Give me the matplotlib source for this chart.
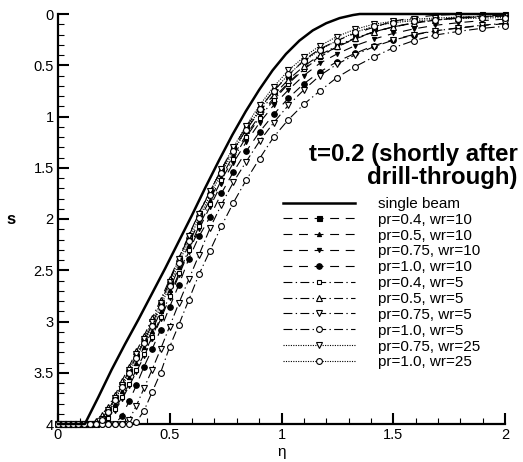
import matplotlib
matplotlib.use("Agg")
import matplotlib.pyplot as plt
from matplotlib.ticker import MultipleLocator

plt.rcParams['font.family'] = ['Liberation Sans', 'DejaVu Sans']

# eta positions shared by every marked series (node positions)
eta = [0.000, 0.021, 0.043, 0.066, 0.090, 0.115, 0.141, 0.168, 0.196, 0.225,
       0.255, 0.286, 0.318, 0.351, 0.385, 0.421, 0.459, 0.499, 0.541, 0.585,
       0.631, 0.680, 0.731, 0.785, 0.842, 0.902, 0.965, 1.031, 1.100, 1.172,
       1.248, 1.328, 1.412, 1.500, 1.592, 1.689, 1.791, 1.895, 2.000]

# single beam (solid line)
eta_single = [0.0, 0.12, 0.18, 0.24, 0.30, 0.36, 0.42, 0.48, 0.54, 0.60, 0.66, 0.72,
              0.78, 0.84, 0.90, 0.96, 1.02, 1.08, 1.14, 1.20, 1.26, 1.32, 1.35, 2.0]
s_single = [4.0, 4.0, 3.74, 3.47, 3.22, 2.98, 2.73, 2.48, 2.22, 1.96, 1.69, 1.43,
            1.18, 0.95, 0.74, 0.55, 0.39, 0.26, 0.16, 0.09, 0.04, 0.01, 0.0, 0.0]

s_pr04_wr10 = [4.0, 4.0, 4.0, 4.0, 4.0, 4.0, 4.0, 4.0, 3.95, 3.86,
               3.75, 3.62, 3.48, 3.34, 3.19, 3.03, 2.83, 2.61, 2.39, 2.17,
               1.94, 1.74, 1.52, 1.30, 1.10, 0.92, 0.75, 0.60, 0.45, 0.34,
               0.26, 0.19, 0.13, 0.07, 0.035, 0.012, 0.003, 0.0, 0.0]
s_pr05_wr10 = [4.0, 4.0, 4.0, 4.0, 4.0, 4.0, 4.0, 4.0, 3.97, 3.90,
               3.80, 3.68, 3.54, 3.40, 3.25, 3.09, 2.90, 2.69, 2.47, 2.25,
               2.02, 1.81, 1.59, 1.38, 1.18, 0.99, 0.82, 0.67, 0.53, 0.41,
               0.32, 0.245, 0.18, 0.125, 0.085, 0.055, 0.035, 0.02, 0.01]
s_pr075_wr10 = [4.0, 4.0, 4.0, 4.0, 4.0, 4.0, 4.0, 4.0, 4.0, 3.95,
                3.87, 3.76, 3.63, 3.49, 3.34, 3.17, 2.98, 2.77, 2.55, 2.32,
                2.10, 1.88, 1.66, 1.45, 1.25, 1.06, 0.89, 0.74, 0.60, 0.48,
                0.39, 0.31, 0.245, 0.19, 0.145, 0.11, 0.085, 0.065, 0.05]
s_pr10_wr10 = [4.0, 4.0, 4.0, 4.0, 4.0, 4.0, 4.0, 4.0, 4.0, 4.0,
               4.0, 3.92, 3.78, 3.62, 3.44, 3.27, 3.08, 2.86, 2.64, 2.39,
               2.17, 1.98, 1.75, 1.54, 1.34, 1.15, 0.98, 0.82, 0.68, 0.565,
               0.465, 0.385, 0.31, 0.25, 0.2, 0.163, 0.138, 0.113, 0.095]
s_pr04_wr5 = [4.0, 4.0, 4.0, 4.0, 4.0, 4.0, 4.0, 4.0, 4.0, 3.94,
              3.85, 3.74, 3.61, 3.47, 3.32, 3.15, 2.96, 2.75, 2.53, 2.30,
              2.07, 1.85, 1.62, 1.41, 1.20, 1.01, 0.84, 0.68, 0.54, 0.42,
              0.32, 0.24, 0.175, 0.125, 0.09, 0.06, 0.04, 0.03, 0.02]
s_pr05_wr5 = [4.0, 4.0, 4.0, 4.0, 4.0, 4.0, 4.0, 3.97, 3.91, 3.83,
              3.72, 3.58, 3.44, 3.29, 3.14, 2.97, 2.79, 2.59, 2.38, 2.16,
              1.94, 1.73, 1.52, 1.32, 1.13, 0.95, 0.79, 0.64, 0.51, 0.40,
              0.31, 0.235, 0.175, 0.125, 0.09, 0.06, 0.04, 0.025, 0.015]
s_pr075_wr5 = [4.0, 4.0, 4.0, 4.0, 4.0, 4.0, 4.0, 4.0, 4.0, 4.0,
               4.0, 4.0, 3.96, 3.82, 3.65, 3.47, 3.27, 3.05, 2.82, 2.59,
               2.35, 2.09, 1.86, 1.64, 1.44, 1.24, 1.06, 0.89, 0.74, 0.60,
               0.49, 0.40, 0.32, 0.255, 0.205, 0.165, 0.135, 0.11, 0.09]
s_pr10_wr5 = [4.0, 4.0, 4.0, 4.0, 4.0, 4.0, 4.0, 4.0, 4.0, 4.0,
              4.0, 4.0, 4.0, 3.98, 3.87, 3.69, 3.50, 3.25, 3.03, 2.79,
              2.54, 2.31, 2.07, 1.84, 1.62, 1.41, 1.20, 1.03, 0.88, 0.75,
              0.62, 0.515, 0.42, 0.33, 0.26, 0.205, 0.17, 0.14, 0.12]
s_pr075_wr25 = [4.0, 4.0, 4.0, 4.0, 4.0, 4.0, 4.0, 4.0, 3.95, 3.86,
                3.75, 3.62, 3.47, 3.32, 3.17, 3.00, 2.82, 2.61, 2.39, 2.17,
                1.95, 1.73, 1.51, 1.30, 1.09, 0.89, 0.71, 0.55, 0.42, 0.31,
                0.22, 0.15, 0.10, 0.07, 0.05, 0.04, 0.03, 0.025, 0.02]
s_pr10_wr25 = [4.0, 4.0, 4.0, 4.0, 4.0, 4.0, 4.0, 4.0, 3.96, 3.88,
               3.77, 3.64, 3.50, 3.36, 3.21, 3.04, 2.86, 2.65, 2.43, 2.21,
               1.99, 1.77, 1.55, 1.34, 1.13, 0.93, 0.75, 0.59, 0.46, 0.35,
               0.26, 0.18, 0.12, 0.085, 0.065, 0.055, 0.045, 0.04, 0.035]

labels = ["pr=0.4, wr=10", "pr=0.5, wr=10", "pr=0.75, wr=10", "pr=1.0, wr=10",
          "pr=0.4, wr=5", "pr=0.5, wr=5", "pr=0.75, wr=5", "pr=1.0, wr=5",
          "pr=0.75, wr=25", "pr=1.0, wr=25"]
series = [s_pr04_wr10, s_pr05_wr10, s_pr075_wr10, s_pr10_wr10,
          s_pr04_wr5, s_pr05_wr5, s_pr075_wr5, s_pr10_wr5,
          s_pr075_wr25, s_pr10_wr25]

dashed = (0, (8, 6))
dashdot = (0, (8, 3, 1.2, 3))
dotted = (0, (1, 1.2))
styles = [dashed] * 4 + [dashdot] * 4 + [dotted] * 2
markers = ['s', '^', 'v', 'o', 's', '^', 'v', 'o', 'v', 'o']
msizes = [3.6, 3.0, 3.0, 4.0, 3.4, 3.8, 3.8, 4.2, 3.8, 4.2]
filled = [True] * 4 + [False] * 6

fig = plt.figure(figsize=(5.23, 4.62), dpi=100)
ax = fig.add_axes([58 / 523, 38 / 462, 447 / 523, 410 / 462])

ax.plot(eta_single, s_single, color='black', lw=1.8, label="single beam",
        clip_on=False, zorder=5)
for s, lab, ls, mk, ms, fl in zip(series, labels, styles, markers, msizes, filled):
    ax.plot(eta, s, color='black', lw=0.8, linestyle=ls, marker=mk, markersize=ms,
            markerfacecolor='black' if fl else 'white', markeredgecolor='black',
            markeredgewidth=0.8, label=lab, clip_on=False, zorder=4)

ax.set_xlim(0, 2)
ax.set_ylim(4, 0)
ax.xaxis.set_major_locator(MultipleLocator(0.5))
ax.xaxis.set_minor_locator(MultipleLocator(0.1))
ax.yaxis.set_major_locator(MultipleLocator(0.5))
ax.yaxis.set_minor_locator(MultipleLocator(0.1))
ax.xaxis.set_major_formatter(plt.FuncFormatter(lambda v, p: f"{v:g}"))
ax.yaxis.set_major_formatter(plt.FuncFormatter(lambda v, p: f"{v:g}"))

for side in ['top', 'right']:
    ax.spines[side].set_visible(False)
for side in ['left', 'bottom']:
    ax.spines[side].set_linewidth(1.6)
ax.tick_params(which='major', direction='in', length=8, width=1.5, labelsize=10.5, pad=3)
ax.tick_params(which='minor', direction='in', length=4.5, width=0.8)

ax.set_xlabel("η", fontsize=11, labelpad=2)
ax.set_ylabel("s", fontsize=12, fontweight='bold', rotation=0, labelpad=16, va='center')

fig.text(518 / 523, 1 - 155 / 462, "t=0.2 (shortly after", ha='right', va='center',
         fontsize=17.3, fontweight='bold')
fig.text(518 / 523, 1 - 177 / 462, "drill-through)", ha='right', va='center',
         fontsize=17.3, fontweight='bold')

ax.legend(loc='upper left', bbox_to_anchor=(283 / 523, 1 - 197 / 462),
          bbox_transform=fig.transFigure, frameon=False, fontsize=11,
          handlelength=4.7, handletextpad=1.5, labelspacing=0.12,
          borderpad=0, borderaxespad=0, numpoints=1)

fig.savefig("out.png", dpi=100)
